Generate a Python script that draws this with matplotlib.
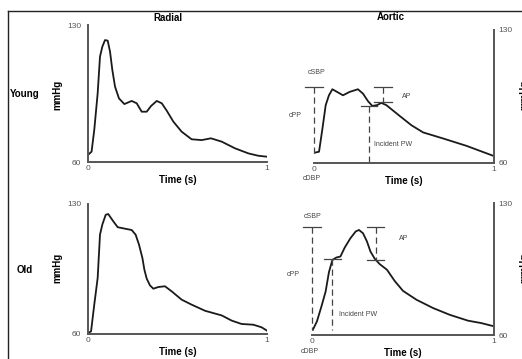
import numpy as np
import matplotlib
matplotlib.use('Agg')
import matplotlib.pyplot as plt

plt.rcParams['font.family'] = ['Liberation Sans', 'DejaVu Sans']

# ── waveform data (time in s, pressure in mmHg) ──
radial_young_t = [0, 0.02, 0.035, 0.054, 0.067, 0.08, 0.095, 0.11, 0.123, 0.136, 0.151,
                  0.173, 0.203, 0.244, 0.272, 0.30, 0.328, 0.352, 0.384, 0.412, 0.44,
                  0.477, 0.523, 0.579, 0.635, 0.687, 0.747, 0.821, 0.896, 0.951, 1.0]
radial_young_p = [63.6, 65.3, 76.4, 95.1, 113.8, 118.9, 122.3, 122.0, 116.4, 107.0, 98.5,
                  92.5, 89.6, 91.2, 90.0, 85.7, 85.7, 88.6, 91.2, 90.0, 86.2,
                  80.6, 75.5, 71.6, 71.2, 72.1, 70.4, 67.0, 64.4, 63.2, 62.7]

radial_old_t = [0, 0.017, 0.035, 0.054, 0.067, 0.08, 0.099, 0.113, 0.141, 0.166, 0.207,
                0.244, 0.266, 0.285, 0.304, 0.315, 0.328, 0.346, 0.365, 0.393, 0.43,
                0.467, 0.523, 0.579, 0.654, 0.747, 0.803, 0.858, 0.924, 0.97, 1.0]
radial_old_p = [60.5, 61.4, 75.8, 90.2, 113.5, 118.9, 124.2, 124.6, 120.7, 117.5, 116.7,
                116.0, 113.5, 108.1, 100.9, 94.6, 89.8, 86.2, 84.4, 85.3, 85.7,
                83.0, 78.5, 75.8, 72.5, 70.0, 67.2, 65.4, 65.0, 63.6, 61.8]

aortic_young_t = [0.004, 0.028, 0.047, 0.065, 0.083, 0.102, 0.128, 0.161, 0.198, 0.244,
                  0.272, 0.30, 0.324, 0.35, 0.374, 0.402, 0.476, 0.541, 0.606, 0.717,
                  0.847, 0.994]
aortic_young_p = [65.2, 65.7, 78.0, 90.3, 95.5, 98.7, 97.3, 95.5, 97.3, 98.7,
                  96.4, 92.4, 89.9, 90.3, 91.5, 90.3, 84.6, 79.7, 75.9, 72.7,
                  68.8, 63.6]

aortic_old_t = [0.005, 0.027, 0.052, 0.075, 0.093, 0.112, 0.134, 0.156, 0.18, 0.211,
                0.24, 0.258, 0.28, 0.302, 0.321, 0.345, 0.372, 0.412, 0.454, 0.50,
                0.574, 0.665, 0.757, 0.857, 0.931, 1.0]
aortic_old_p = [62.8, 67.2, 75.2, 83.1, 93.3, 99.8, 101.1, 101.6, 106.4, 111.3,
                114.9, 115.7, 114.0, 109.6, 104.3, 100.4, 97.6, 94.6, 88.7, 83.4,
                78.7, 74.3, 70.7, 67.6, 66.3, 64.6]

# annotation levels (mmHg) and times (s) for the aortic panels
young_cSBP, young_cDBP = 99.9, 65.2
young_pw_t, young_pw_p = 0.306, 89.9
young_ap_t, young_ap_hi, young_ap_lo = 0.383, 99.9, 91.7

old_cSBP, old_cDBP = 117.5, 62.8
old_pw_t, old_pw_p = 0.112, 100.4
old_ap_t, old_ap_hi, old_ap_lo = 0.35, 117.5, 99.8

Y_MIN, Y_MAX = 60, 130
W, H = 522, 359

fig = plt.figure(figsize=(W / 100, H / 100), dpi=100)


def px_axes(left, right, top, bottom):
    return fig.add_axes([left / W, 1 - bottom / H, (right - left) / W, (bottom - top) / H])


def style(ax, side):
    ax.set_xlim(0, 1)
    ax.set_ylim(Y_MIN, Y_MAX)
    ax.patch.set_alpha(0)
    for s in ('top', 'left', 'right', 'bottom'):
        ax.spines[s].set_visible(s in (side, 'bottom'))
    for s in (side, 'bottom'):
        ax.spines[s].set_color('#555555')
        ax.spines[s].set_linewidth(1.4)
    ax.set_xticks([0, 1])
    ax.set_yticks([Y_MIN, Y_MAX])
    ax.tick_params(axis='x', length=0, labelsize=6, labelcolor='#555555', pad=2.5)
    ax.tick_params(axis='y', length=0, labelsize=6, labelcolor='#555555', pad=5)
    if side == 'right':
        ax.yaxis.tick_right()
        ax.tick_params(axis='y', pad=3)
    ax.set_xlabel('Time (s)', fontsize=7, fontweight='bold', labelpad=2)


ax_ry = px_axes(88, 267, 25, 162)
ax_ro = px_axes(88, 267, 204, 334)
ax_ay = px_axes(314, 494, 30, 162.5)
ax_ao = px_axes(312, 494, 203, 335)

for ax in (ax_ry, ax_ro):
    style(ax, 'left')
for ax in (ax_ay, ax_ao):
    style(ax, 'right')

ax_ry.plot(radial_young_t, radial_young_p, color='#1a1a1a', lw=1.3)
ax_ro.plot(radial_old_t, radial_old_p, color='#1a1a1a', lw=1.3)
ax_ay.plot(aortic_young_t, aortic_young_p, color='#1a1a1a', lw=1.3)
ax_ao.plot(aortic_old_t, aortic_old_p, color='#1a1a1a', lw=1.3)

ANN = '#444444'


def annotate(ax, csbp, cdbp, pw_t, pw_p, ap_t, ap_hi, ap_lo, txt):
    kw = dict(color=ANN, lw=0.9, clip_on=False)
    dash = dict(color=ANN, lw=0.9, clip_on=False, ls=(0, (5, 3)))
    fs = dict(fontsize=5, color=ANN, clip_on=False)
    # cSBP / cPP / cDBP
    ax.plot([-0.048, 0.048], [csbp, csbp], **kw)
    ax.plot([0, 0], [csbp, cdbp], **dash)
    ax.text(txt['sbp_x'], txt['sbp_y'], 'cSBP', ha='center', va='center', **fs)
    ax.text(-0.105, txt['cpp_y'], 'cPP', ha='center', va='center', **fs)
    ax.text(-0.01, 51.5, 'cDBP', ha='center', va='center', **fs)
    # incident pressure wave
    ax.plot([pw_t - 0.046, pw_t + 0.046], [pw_p, pw_p], **kw)
    ax.plot([pw_t, pw_t], [pw_p, txt['pw_end']], **dash)
    ax.text(txt['pw_x'], txt['pw_y'], 'Incident PW', ha='left', va='center', **fs)
    # augmentation pressure
    for lvl in (ap_hi, ap_lo):
        ax.plot([ap_t - 0.048, ap_t + 0.048], [lvl, lvl], **kw)
    ax.plot([ap_t, ap_t], [ap_hi, ap_lo], **dash)
    ax.text(txt['ap_x'], txt['ap_y'], 'AP', ha='left', va='center', **fs)


annotate(ax_ay, young_cSBP, young_cDBP, young_pw_t, young_pw_p,
         young_ap_t, young_ap_hi, young_ap_lo,
         dict(sbp_x=0.013, sbp_y=107.8, cpp_y=85, pw_end=60.5, pw_x=0.332, pw_y=69.6,
              ap_x=0.49, ap_y=95.0))
annotate(ax_ao, old_cSBP, old_cDBP, old_pw_t, old_pw_p,
         old_ap_t, old_ap_hi, old_ap_lo,
         dict(sbp_x=0.002, sbp_y=122.8, cpp_y=92.3, pw_end=62.8, pw_x=0.148, pw_y=71.1,
              ap_x=0.478, ap_y=111.3))

# column / row titles and the left mmHg labels
bold = dict(ha='center', va='center', fontsize=7, fontweight='bold')
fig.text(168 / W, 1 - 18 / H, 'Radial', **bold)
fig.text(391 / W, 1 - 17 / H, 'Aortic', **bold)
fig.text(25 / W, 1 - 94 / H, 'Young', **bold)
fig.text(25 / W, 1 - 270 / H, 'Old', **bold)
for yc in (95, 268):
    fig.text(57 / W, 1 - yc / H, 'mmHg', rotation=90, **bold)
    # right-hand mmHg labels, cut off by the image edge as in the source figure
    fig.text(524 / W, 1 - yc / H, 'mmHg', rotation=90, **bold)

# frame lines at the top and left
fig.add_artist(plt.Line2D([8 / W, 1], [1 - 11 / H, 1 - 11 / H], color='#222222', lw=1.0))
fig.add_artist(plt.Line2D([8 / W, 8 / W], [0, 1 - 11 / H], color='#222222', lw=1.0))

fig.savefig('out.png', dpi=100)
